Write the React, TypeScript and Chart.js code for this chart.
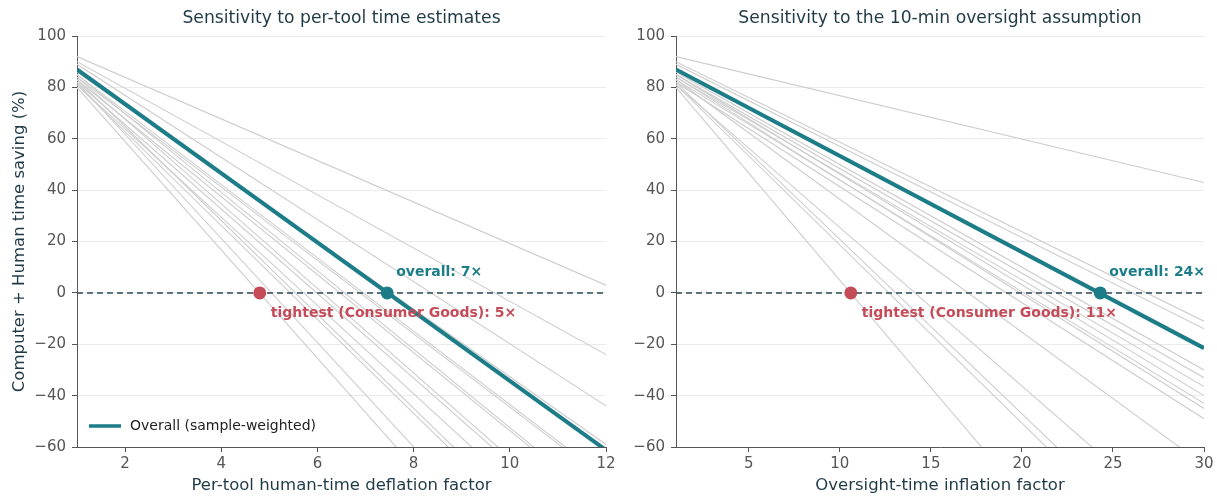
import React, { useEffect, useRef } from 'react';
import { Chart, registerables } from 'chart.js';

Chart.register(...registerables);

// ---------- data ----------
const sectorStart = [92, 90, 89, 86, 85, 84, 85, 83, 84, 82, 83, 81, 82, 80, 81];
// value of each sector line at deflation factor 12 (left panel)
const toolEnd = [3, -24, -44, -59, -72, -73, -83, -84, -97, -99, -118, -120, -141, -152, -108];
// value of each sector line at inflation factor 30 (right panel)
const oversightEnd = [43, -11, -14, -30, -33, -36.5, -40, -43, -45, -49, -67, -98, -115, -162, -120];

const overallStart = 87;
const overallToolEnd = -61.2;
const overallOversightEnd = -21.5;

const toolBreakEven = 7.45;
const toolTightest = 4.8;
const oversightBreakEven = 24.3;
const oversightTightest = 10.6;
const tightestSector = 'Consumer Goods';

const toolXMax = 12;
const oversightXMax = 30;
const yMin = -60;
const yMax = 100;

const titles = ['Sensitivity to per-tool time estimates', 'Sensitivity to the 10-min oversight assumption'];
const xTitles = ['Per-tool human-time deflation factor', 'Oversight-time inflation factor'];
const yTitle = 'Computer + Human time saving (%)';
const overallLabel = 'Overall (sample-weighted)';

// ---------- style ----------
const FONT = 'DejaVu Sans';
const TEAL = '#1c7d89';
const RED = '#c44b57';
const GRAY = '#cdcdcd';
const DARK = '#1f3a46';
const TICK = '#555555';

const annotPlugin = {
  id: 'annot',
  afterDatasetsDraw(chart: any, _args: any, opts: any) {
    const ctx = chart.ctx;
    const xs = chart.scales.x;
    const ys = chart.scales.y;
    const y0 = ys.getPixelForValue(0);
    ctx.save();
    (opts.items || []).forEach((it: any) => {
      ctx.font = `bold 14px "${FONT}"`;
      ctx.fillStyle = it.color;
      ctx.textAlign = 'left';
      ctx.textBaseline = 'middle';
      ctx.fillText(it.text, xs.getPixelForValue(it.x) + it.dx, y0 + it.dy);
    });
    if (opts.legend) {
      const ca = chart.chartArea;
      const ly = ca.bottom - 21;
      ctx.strokeStyle = TEAL;
      ctx.lineWidth = 3.5;
      ctx.beginPath();
      ctx.moveTo(ca.left + 12, ly);
      ctx.lineTo(ca.left + 44, ly);
      ctx.stroke();
      ctx.font = `14px "${FONT}"`;
      ctx.fillStyle = '#222222';
      ctx.textAlign = 'left';
      ctx.textBaseline = 'middle';
      ctx.fillText(opts.legend, ca.left + 53, ly);
    }
    ctx.restore();
  },
};

function buildConfig(kind: 'tool' | 'oversight') {
  const isTool = kind === 'tool';
  const xMax = isTool ? toolXMax : oversightXMax;
  const ends = isTool ? toolEnd : oversightEnd;
  const be = isTool ? toolBreakEven : oversightBreakEven;
  const tight = isTool ? toolTightest : oversightTightest;
  const overallEnd = isTool ? overallToolEnd : overallOversightEnd;

  const datasets: any[] = [
    {
      label: 'tightest',
      data: [{ x: tight, y: 0 }],
      showLine: false,
      pointRadius: 6.5,
      pointBackgroundColor: RED,
      pointBorderWidth: 0,
      order: 0,
    },
    {
      label: 'break-even',
      data: [{ x: be, y: 0 }],
      showLine: false,
      pointRadius: 6.5,
      pointBackgroundColor: TEAL,
      pointBorderWidth: 0,
      order: 0,
    },
    {
      label: overallLabel,
      data: [{ x: 1, y: overallStart }, { x: xMax, y: overallEnd }],
      borderColor: TEAL,
      borderWidth: 4,
      pointRadius: 0,
      order: 1,
    },
    {
      label: 'zero',
      data: [{ x: 1, y: 0 }, { x: xMax, y: 0 }],
      borderColor: '#2e4a55',
      borderWidth: 1.5,
      borderDash: [6, 4],
      pointRadius: 0,
      order: 2,
    },
  ];
  sectorStart.forEach((s, i) => {
    datasets.push({
      label: `sector ${i + 1}`,
      data: [{ x: 1, y: s }, { x: xMax, y: ends[i] }],
      borderColor: GRAY,
      borderWidth: 1.1,
      pointRadius: 0,
      order: 3,
    });
  });

  return {
    type: 'line',
    data: { datasets },
    options: {
      animation: false,
      responsive: false,
      devicePixelRatio: 1,
      events: [],
      layout: { padding: { left: 0, right: isTool ? 14 : 13, top: 0, bottom: 0 } },
      plugins: {
        legend: { display: false },
        tooltip: { enabled: false },
        title: {
          display: true,
          text: titles[isTool ? 0 : 1],
          fullSize: false,
          color: DARK,
          font: { size: 17.2, weight: 'normal', family: FONT },
          padding: { top: 8, bottom: 7.4 },
        },
        annot: {
          items: [
            { x: be, text: `overall: ${Math.round(be)}×`, color: TEAL, dx: 9, dy: -21 },
            { x: tight, text: `tightest (${tightestSector}): ${Math.round(tight)}×`, color: RED, dx: 11, dy: 20 },
          ],
          legend: isTool ? overallLabel : null,
        },
      },
      scales: {
        x: {
          type: 'linear',
          min: 1,
          max: xMax,
          ticks: {
            stepSize: isTool ? 2 : 5,
            includeBounds: false,
            color: TICK,
            font: { size: 15, family: FONT },
            padding: 3,
            maxRotation: 0,
          },
          grid: { drawOnChartArea: false, drawTicks: true, tickLength: 5, tickColor: TICK },
          border: { color: TICK, width: 1 },
          title: {
            display: true,
            text: xTitles[isTool ? 0 : 1],
            color: DARK,
            font: { size: 16.5, family: FONT },
            padding: { top: 0, bottom: 3 },
          },
          afterFit: (s: any) => {
            s.height = 52;
          },
        },
        y: {
          type: 'linear',
          min: yMin,
          max: yMax,
          ticks: {
            stepSize: 20,
            color: TICK,
            font: { size: 15, family: FONT },
            padding: 6,
            callback: (v: any) => (v < 0 ? '\u2212' + Math.abs(v) : String(v)),
          },
          grid: { color: '#ebebeb', lineWidth: 1, tickColor: TICK, tickLength: 5 },
          border: { color: TICK, width: 1 },
          title: {
            display: isTool,
            text: yTitle,
            color: DARK,
            font: { size: 16.5, family: FONT },
            padding: { top: 10, bottom: 0 },
          },
          afterFit: (s: any) => {
            s.width = isTool ? 77 : 68;
          },
        },
      },
    },
    plugins: [annotPlugin],
  };
}

function Panel({ kind, left, width }: { kind: 'tool' | 'oversight'; left: number; width: number }) {
  const ref = useRef<HTMLCanvasElement>(null);
  useEffect(() => {
    if (!ref.current) return;
    const chart = new Chart(ref.current, buildConfig(kind) as any);
    return () => chart.destroy();
  }, [kind]);
  return (
    <canvas
      ref={ref}
      width={width}
      height={499}
      style={{ position: 'absolute', left, top: 0, width, height: 499 }}
    />
  );
}

export default function App() {
  return (
    <div style={{ position: 'absolute', left: 0, top: 0, width: 1217, height: 499, background: '#ffffff' }}>
      <Panel kind="tool" left={0} width={620} />
      <Panel kind="oversight" left={608} width={609} />
    </div>
  );
}
